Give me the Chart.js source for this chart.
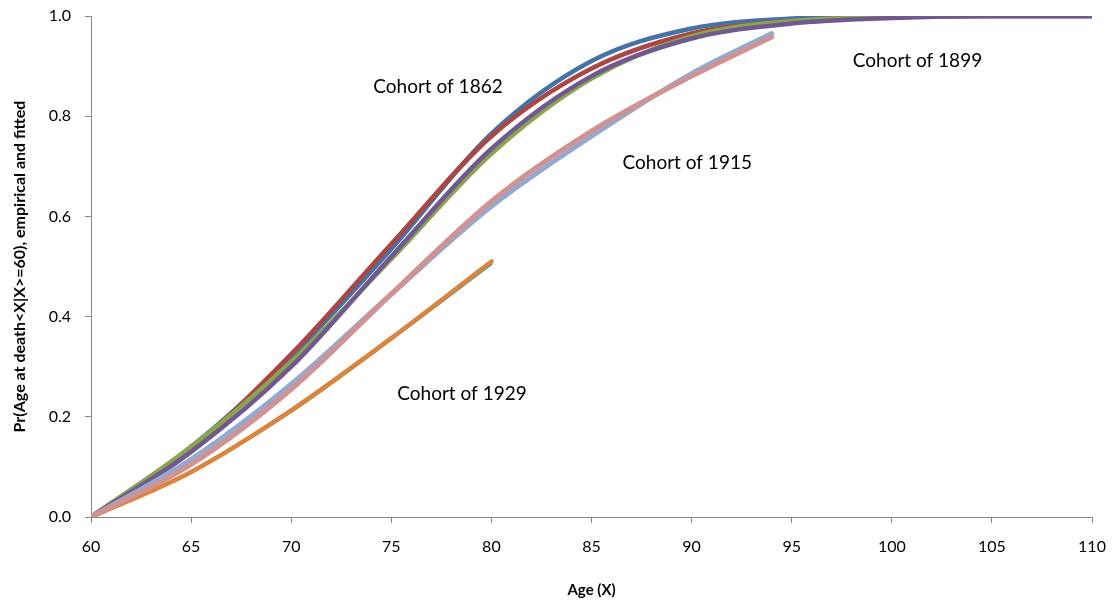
<!DOCTYPE html>
<html>
<head>
<meta charset="utf-8">
<script src="https://cdn.jsdelivr.net/npm/chart.js@4"></script>
<style>
    html, body { margin: 0; padding: 0; background: #fff; }
    #wrap { width: 1114px; height: 604px; position: relative; }
</style>
</head>
<body>
<div id="wrap"><canvas id="survivalChart"></canvas></div>
<script>
// Ages (X) for each group of cohorts
const agesLong = [60, 65, 70, 75, 80, 85, 90, 95, 100, 105, 110];
const ages1915 = [60, 65, 70, 75, 80, 85, 90, 94];
const ages1929 = [60, 65, 70, 75, 80];

// Pr(Age at death < X | X >= 60)
const cohort1862Empirical = [0, 0.14, 0.32, 0.535, 0.765, 0.91, 0.975, 0.995, 1.0, 1.0, 1.0];
const cohort1862Fitted    = [0, 0.135, 0.325, 0.545, 0.76, 0.895, 0.965, 0.99, 0.998, 1.0, 1.0];
const cohort1899Empirical = [0, 0.14, 0.31, 0.515, 0.725, 0.875, 0.96, 0.99, 0.998, 1.0, 1.0];
const cohort1899Fitted    = [0, 0.13, 0.30, 0.52, 0.735, 0.88, 0.955, 0.985, 0.996, 1.0, 1.0];
const cohort1915Empirical = [0, 0.115, 0.265, 0.445, 0.62, 0.76, 0.885, 0.965];
const cohort1915Fitted    = [0, 0.105, 0.255, 0.445, 0.63, 0.77, 0.88, 0.958];
const cohort1929Empirical = [0, 0.09, 0.21, 0.355, 0.505];
const cohort1929Fitted    = [0, 0.09, 0.213, 0.357, 0.51];

const yTicks = [0, 0.2, 0.4, 0.6, 0.8, 1.0];
const xTicks = [60, 65, 70, 75, 80, 85, 90, 95, 100, 105, 110];

// Text labels placed in data coordinates
const cohortLabels = ['Cohort of 1862', 'Cohort of 1899', 'Cohort of 1915', 'Cohort of 1929'];
const labelAges = [74.1, 98.05, 86.55, 75.3];
const labelProbs = [0.858, 0.91, 0.707, 0.245];

function toPoints(xs, ys) {
    return xs.map((x, i) => ({ x: x, y: ys[i] }));
}

function makeSeries(label, xs, ys, color, width, order) {
    return {
        label: label,
        data: toPoints(xs, ys),
        borderColor: color,
        backgroundColor: color,
        borderWidth: width,
        pointRadius: 0,
        cubicInterpolationMode: 'monotone',
        borderCapStyle: 'round',
        order: order
    };
}

const cohortLabelPlugin = {
    id: 'cohortLabels',
    afterDatasetsDraw(chart) {
        const ctx = chart.ctx;
        const xs = chart.scales.x;
        const ys = chart.scales.y;
        ctx.save();
        ctx.font = '19px Lato';
        ctx.fillStyle = '#000';
        ctx.textAlign = 'left';
        ctx.textBaseline = 'middle';
        cohortLabels.forEach((txt, i) => {
            ctx.fillText(txt, xs.getPixelForValue(labelAges[i]), ys.getPixelForValue(labelProbs[i]));
        });
        ctx.restore();
    }
};

const axisColor = '#868686';

new Chart(document.getElementById('survivalChart').getContext('2d'), {
    type: 'line',
    data: {
        datasets: [
            makeSeries('1862 empirical', agesLong, cohort1862Empirical, '#4572A7', 4.5, 8),
            makeSeries('1862 fitted', agesLong, cohort1862Fitted, '#AA4643', 4.5, 7),
            makeSeries('1899 empirical', agesLong, cohort1899Empirical, '#89A54E', 4.5, 6),
            makeSeries('1899 fitted', agesLong, cohort1899Fitted, '#71588F', 4.5, 5),
            makeSeries('1929 empirical', ages1929, cohort1929Empirical, '#4198AF', 2.5, 4),
            makeSeries('1929 fitted', ages1929, cohort1929Fitted, '#DB843D', 4.5, 3),
            makeSeries('1915 empirical', ages1915, cohort1915Empirical, '#93A9CF', 5, 2),
            makeSeries('1915 fitted', ages1915, cohort1915Fitted, '#D19392', 5, 1)
        ]
    },
    options: {
        responsive: true,
        maintainAspectRatio: false,
        animation: false,
        layout: { padding: { top: 16, right: 22, left: 0, bottom: 0 } },
        plugins: {
            legend: { display: false },
            tooltip: { enabled: false }
        },
        scales: {
            x: {
                type: 'linear',
                min: 60,
                max: 110,
                afterBuildTicks: axis => { axis.ticks = xTicks.map(v => ({ value: v })); },
                afterFit: axis => {
                    axis.height = 87;
                    axis.paddingLeft = 0;
                    axis.paddingRight = 0;
                },
                ticks: {
                    color: '#000',
                    font: { family: 'Lato', size: 16 },
                    padding: 14,
                    maxRotation: 0
                },
                grid: { display: true, drawOnChartArea: false, drawTicks: true, tickLength: 6, color: axisColor },
                border: { color: axisColor, width: 1 },
                title: {
                    display: true,
                    text: 'Age (X)',
                    color: '#000',
                    font: { family: 'Lato', size: 15, weight: 'bold' },
                    padding: { top: 14, bottom: 5 }
                }
            },
            y: {
                type: 'linear',
                min: 0,
                max: 1,
                afterBuildTicks: axis => { axis.ticks = yTicks.map(v => ({ value: v })); },
                afterFit: axis => {
                    axis.width = 91;
                    axis.paddingTop = 0;
                    axis.paddingBottom = 0;
                },
                ticks: {
                    color: '#000',
                    font: { family: 'Lato', size: 16 },
                    padding: 14,
                    callback: v => v.toFixed(1)
                },
                grid: { display: true, drawOnChartArea: false, drawTicks: true, tickLength: 6, color: axisColor },
                border: { color: axisColor, width: 1 },
                title: {
                    display: true,
                    text: 'Pr(Age at death<X|X>=60), empirical and fitted',
                    color: '#000',
                    font: { family: 'Lato', size: 16, weight: 'bold' },
                    padding: { top: 10, bottom: 0 }
                }
            }
        }
    },
    plugins: [cohortLabelPlugin]
});
</script>
</body>
</html>
